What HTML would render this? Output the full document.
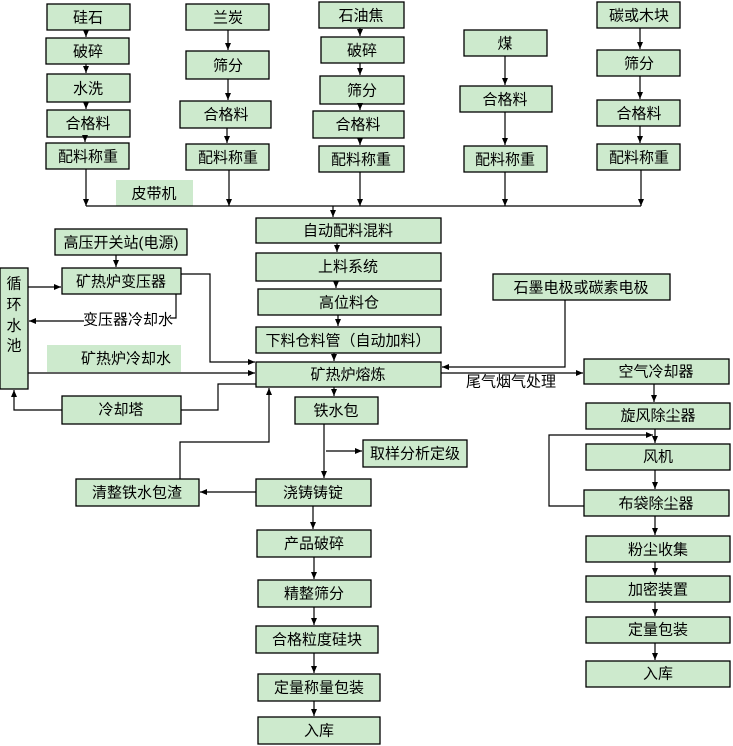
<!DOCTYPE html>
<html><head><meta charset="utf-8"><style>
html,body{margin:0;padding:0;background:#fff;}
svg{display:block;}
text{font-family:"Liberation Sans","Noto Sans CJK SC",sans-serif;font-size:15px;fill:#000;text-anchor:middle;dominant-baseline:central;}
.b{fill:#cdeacd;stroke:#000;stroke-width:1.3;}
.l{fill:none;stroke:#000;stroke-width:1.2;}
</style></head><body>
<svg width="733" height="746" viewBox="0 0 733 746" xmlns="http://www.w3.org/2000/svg">
<defs><marker id="a" markerWidth="8" markerHeight="8" refX="7" refY="4" orient="auto" markerUnits="userSpaceOnUse"><path d="M0,1 L7,4 L0,7 z" fill="#000"/></marker></defs>
<!-- column 1 -->
<rect class="b" x="47" y="4" width="83" height="26"/><text x="88" y="18">硅石</text>
<rect class="b" x="46" y="38" width="83" height="26"/><text x="88" y="52">破碎</text>
<rect class="b" x="47" y="74" width="83" height="28"/><text x="88" y="89">水洗</text>
<rect class="b" x="47" y="110" width="83" height="27"/><text x="88" y="124">合格料</text>
<rect class="b" x="46" y="143" width="83" height="26"/><text x="88" y="157">配料称重</text>
<line class="l" x1="86" y1="30" x2="86" y2="37" marker-end="url(#a)"/>
<line class="l" x1="86" y1="64" x2="86" y2="73" marker-end="url(#a)"/>
<line class="l" x1="86" y1="102" x2="86" y2="109" marker-end="url(#a)"/>
<line class="l" x1="85" y1="137" x2="85" y2="142" marker-end="url(#a)"/>
<line class="l" x1="86" y1="169" x2="86" y2="206" marker-end="url(#a)"/>
<!-- column 2 -->
<rect class="b" x="186" y="4" width="83" height="26"/><text x="228" y="18">兰炭</text>
<rect class="b" x="186" y="51" width="83" height="28"/><text x="228" y="66">筛分</text>
<rect class="b" x="180" y="101" width="91" height="27"/><text x="226" y="115">合格料</text>
<rect class="b" x="186" y="144" width="83" height="26"/><text x="228" y="158">配料称重</text>
<line class="l" x1="228" y1="30" x2="228" y2="50" marker-end="url(#a)"/>
<line class="l" x1="228" y1="79" x2="228" y2="100" marker-end="url(#a)"/>
<line class="l" x1="227" y1="128" x2="227" y2="143" marker-end="url(#a)"/>
<line class="l" x1="229" y1="170" x2="229" y2="206" marker-end="url(#a)"/>
<!-- column 3 -->
<rect class="b" x="319" y="2" width="85" height="26"/><text x="361" y="16">石油焦</text>
<rect class="b" x="321" y="37" width="83" height="26"/><text x="362" y="51">破碎</text>
<rect class="b" x="320" y="76" width="84" height="28"/><text x="362" y="91">筛分</text>
<rect class="b" x="313" y="111" width="91" height="27"/><text x="358" y="125">合格料</text>
<rect class="b" x="319" y="146" width="85" height="26"/><text x="361" y="160">配料称重</text>
<line class="l" x1="360" y1="28" x2="360" y2="36" marker-end="url(#a)"/>
<line class="l" x1="360" y1="63" x2="360" y2="75" marker-end="url(#a)"/>
<line class="l" x1="360" y1="104" x2="360" y2="110" marker-end="url(#a)"/>
<line class="l" x1="360" y1="138" x2="360" y2="145" marker-end="url(#a)"/>
<line class="l" x1="360" y1="172" x2="360" y2="206" marker-end="url(#a)"/>
<!-- column 4 -->
<rect class="b" x="464" y="30" width="83" height="26"/><text x="505" y="44">煤</text>
<rect class="b" x="460" y="86" width="92" height="26"/><text x="505" y="100">合格料</text>
<rect class="b" x="464" y="146" width="83" height="26"/><text x="505" y="160">配料称重</text>
<line class="l" x1="505" y1="56" x2="505" y2="85" marker-end="url(#a)"/>
<line class="l" x1="505" y1="112" x2="505" y2="145" marker-end="url(#a)"/>
<line class="l" x1="505" y1="172" x2="505" y2="206" marker-end="url(#a)"/>
<!-- column 5 -->
<rect class="b" x="597" y="2" width="83" height="26"/><text x="639" y="16">碳或木块</text>
<rect class="b" x="597" y="50" width="83" height="26"/><text x="639" y="64">筛分</text>
<rect class="b" x="597" y="100" width="83" height="26"/><text x="639" y="114">合格料</text>
<rect class="b" x="597" y="144" width="83" height="26"/><text x="639" y="158">配料称重</text>
<line class="l" x1="640" y1="28" x2="640" y2="49" marker-end="url(#a)"/>
<line class="l" x1="640" y1="76" x2="640" y2="99" marker-end="url(#a)"/>
<line class="l" x1="640" y1="126" x2="640" y2="143" marker-end="url(#a)"/>
<line class="l" x1="641" y1="170" x2="641" y2="206" marker-end="url(#a)"/>
<!-- belt -->
<rect x="116" y="180" width="77" height="26" fill="#cdeacd"/><text x="154" y="194">皮带机</text>
<line class="l" x1="86" y1="206" x2="641" y2="206"/>
<line class="l" x1="333" y1="206" x2="333" y2="217" marker-end="url(#a)"/>
<!-- middle chain -->
<rect class="b" x="256" y="218" width="185" height="25"/><text x="348" y="231">自动配料混料</text>
<rect class="b" x="256" y="253" width="185" height="28"/><text x="348" y="267">上料系统</text>
<rect class="b" x="258" y="289" width="183" height="26"/><text x="349" y="303">高位料仓</text>
<rect class="b" x="256" y="327" width="185" height="26"/><text x="348" y="341">下料仓料管（自动加料）</text>
<rect class="b" x="256" y="362" width="185" height="25"/><text x="348" y="375">矿热炉熔炼</text>
<rect class="b" x="295" y="397" width="83" height="27"/><text x="336" y="411">铁水包</text>
<rect class="b" x="363" y="440" width="104" height="27"/><text x="415" y="454">取样分析定级</text>
<rect class="b" x="256" y="479" width="115" height="27"/><text x="313" y="493">浇铸铸锭</text>
<rect class="b" x="76" y="479" width="123" height="27"/><text x="137" y="493">清整铁水包渣</text>
<line class="l" x1="337" y1="243" x2="337" y2="252" marker-end="url(#a)"/>
<line class="l" x1="336" y1="281" x2="336" y2="288" marker-end="url(#a)"/>
<line class="l" x1="338" y1="315" x2="338" y2="326" marker-end="url(#a)"/>
<line class="l" x1="334" y1="353" x2="334" y2="361" marker-end="url(#a)"/>
<line class="l" x1="334" y1="387" x2="334" y2="396" marker-end="url(#a)"/>
<line class="l" x1="324" y1="424" x2="324" y2="478" marker-end="url(#a)"/>
<line class="l" x1="326" y1="451" x2="362" y2="451" marker-end="url(#a)"/>
<line class="l" x1="256" y1="492" x2="200" y2="492" marker-end="url(#a)"/>
<polyline class="l" points="180,479 180,442 269,442 269,388" marker-end="url(#a)"/>
<!-- lower chain -->
<rect class="b" x="257" y="530" width="114" height="27"/><text x="314" y="544">产品破碎</text>
<rect class="b" x="258" y="580" width="113" height="27"/><text x="314" y="594">精整筛分</text>
<rect class="b" x="256" y="626" width="122" height="27"/><text x="317" y="640">合格粒度硅块</text>
<rect class="b" x="258" y="674" width="122" height="27"/><text x="319" y="688">定量称量包装</text>
<rect class="b" x="258" y="717" width="122" height="27"/><text x="319" y="731">入库</text>
<line class="l" x1="313" y1="506" x2="313" y2="529" marker-end="url(#a)"/>
<line class="l" x1="314" y1="557" x2="314" y2="579" marker-end="url(#a)"/>
<line class="l" x1="314" y1="607" x2="314" y2="625" marker-end="url(#a)"/>
<line class="l" x1="314" y1="653" x2="314" y2="673" marker-end="url(#a)"/>
<line class="l" x1="314" y1="701" x2="314" y2="716" marker-end="url(#a)"/>
<!-- left -->
<rect class="b" x="55" y="229" width="132" height="26"/><text x="121" y="243">高压开关站(电源)</text>
<rect class="b" x="62" y="268" width="119" height="26"/><text x="121" y="282">矿热炉变压器</text>
<rect class="b" x="0" y="268" width="28" height="121"/>
<text x="14" y="284">循</text><text x="14" y="305">环</text><text x="14" y="326">水</text><text x="14" y="346">池</text>
<rect class="b" x="62" y="396" width="119" height="28"/><text x="121" y="410">冷却塔</text>
<rect x="47" y="345" width="134" height="27" fill="#cdeacd"/><text x="126" y="359">矿热炉冷却水</text>
<line class="l" x1="116" y1="255" x2="116" y2="267" marker-end="url(#a)"/>
<line class="l" x1="28" y1="287" x2="61" y2="287" marker-end="url(#a)"/>
<polyline class="l" points="176,294 176,318 170,318"/>
<line class="l" x1="84" y1="321" x2="29" y2="321" marker-end="url(#a)"/>
<text x="128" y="320">变压器冷却水</text>
<polyline class="l" points="181,274 210,274 210,362 255,362" marker-end="url(#a)"/>
<line class="l" x1="28" y1="373" x2="255" y2="373" marker-end="url(#a)"/>
<polyline class="l" points="181,410 218,410 218,384 256,384"/>
<polyline class="l" points="62,410 14,410 14,390" marker-end="url(#a)"/>
<!-- right -->
<rect class="b" x="493" y="274" width="177" height="26"/><text x="581" y="288">石墨电极或碳素电极</text>
<polyline class="l" points="565,300 565,367 442,367" marker-end="url(#a)"/>
<line class="l" x1="441" y1="373" x2="583" y2="373" marker-end="url(#a)"/>
<text x="511" y="382">尾气烟气处理</text>
<rect class="b" x="584" y="359" width="145" height="25"/><text x="656" y="372">空气冷却器</text>
<rect class="b" x="586" y="403" width="144" height="26"/><text x="658" y="416">旋风除尘器</text>
<rect class="b" x="586" y="444" width="144" height="26"/><text x="658" y="457">风机</text>
<rect class="b" x="584" y="490" width="145" height="26"/><text x="656" y="504">布袋除尘器</text>
<rect class="b" x="586" y="536" width="144" height="26"/><text x="658" y="550">粉尘收集</text>
<rect class="b" x="586" y="576" width="144" height="26"/><text x="658" y="590">加密装置</text>
<rect class="b" x="586" y="617" width="144" height="26"/><text x="658" y="630">定量包装</text>
<rect class="b" x="586" y="661" width="144" height="26"/><text x="658" y="674">入库</text>
<line class="l" x1="654" y1="384" x2="654" y2="402" marker-end="url(#a)"/>
<line class="l" x1="655" y1="429" x2="655" y2="443" marker-end="url(#a)"/>
<line class="l" x1="655" y1="470" x2="655" y2="489" marker-end="url(#a)"/>
<line class="l" x1="655" y1="516" x2="655" y2="535" marker-end="url(#a)"/>
<line class="l" x1="655" y1="562" x2="655" y2="575" marker-end="url(#a)"/>
<line class="l" x1="655" y1="602" x2="655" y2="616" marker-end="url(#a)"/>
<line class="l" x1="655" y1="643" x2="655" y2="660" marker-end="url(#a)"/>
<polyline class="l" points="584,506 549,506 549,435 653,435" marker-end="url(#a)"/>
</svg>
</body></html>
